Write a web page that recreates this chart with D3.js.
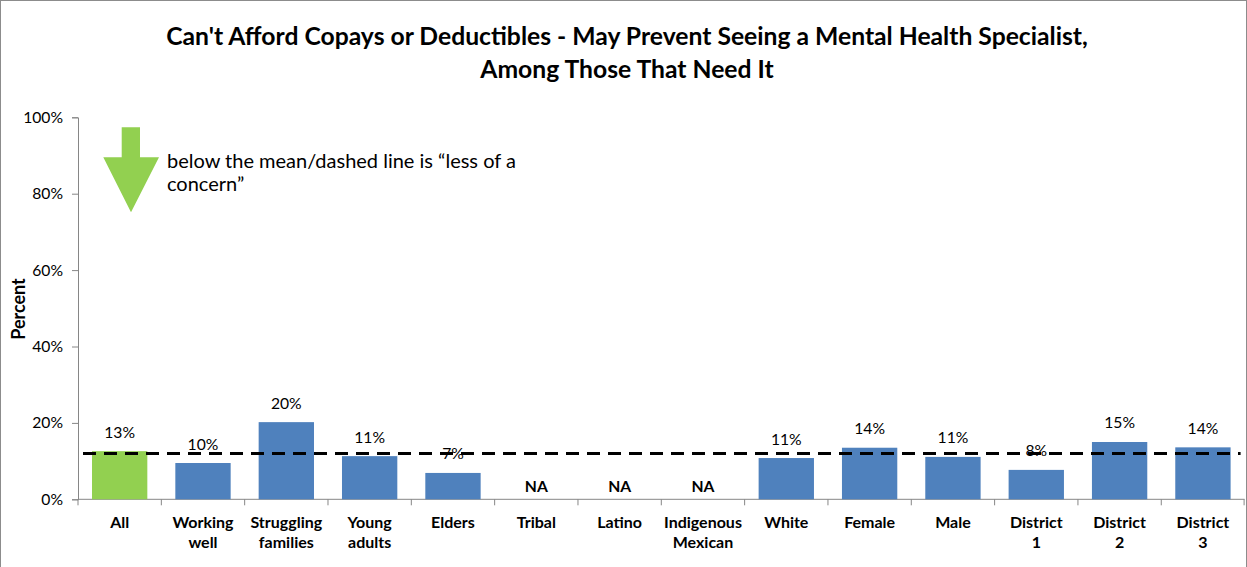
<!DOCTYPE html>
<html>
<head>
<meta charset="utf-8">
<script src="https://cdn.jsdelivr.net/npm/d3@7"></script>
<style>
    body { margin: 0; background: #fff; }
    svg { display: block; font-family: Lato, "Open Sans", sans-serif; }
</style>
</head>
<body>
<div id="chart"></div>
<script>

// chart data
var categories = ["All", "Working well", "Struggling families", "Young adults", "Elders", "Tribal",
    "Latino", "Indigenous Mexican", "White", "Female", "Male", "District 1", "District 2", "District 3"];
var xLabelLines = [["All"], ["Working", "well"], ["Struggling", "families"], ["Young", "adults"], ["Elders"],
    ["Tribal"], ["Latino"], ["Indigenous", "Mexican"], ["White"], ["Female"], ["Male"],
    ["District", "1"], ["District", "2"], ["District", "3"]];
// percent, null = NA
var values = [12.6, 9.5, 20.2, 11.3, 6.9, null, null, null, 10.8, 13.5, 11.1, 7.7, 15.0, 13.6];
var meanValue = 12;
var yTicks = [0, 20, 40, 60, 80, 100];

var titleLines = ["Can't Afford Copays or Deductibles - May Prevent Seeing a Mental Health Specialist,",
    "Among Those That Need It"];
var noteLines = ["below the mean/dashed line is \u201cless of a", "concern\u201d"];

var W = 1247, H = 567;
var margin = {top: 117.3, left: 78, right: 2.4, bottom: 67.7};
var width = W - margin.left - margin.right;
var height = H - margin.top - margin.bottom;

var svg = d3.select("#chart").append("svg")
    .attr("width", W)
    .attr("height", H);

// outer border
svg.append("rect")
    .attr("x", 0.5).attr("y", 0.5)
    .attr("width", W - 1).attr("height", H + 5)
    .attr("fill", "none")
    .attr("stroke", "#8c8c8c");

var g = svg.append("g")
    .attr("transform", "translate(" + margin.left + "," + margin.top + ")");

var x = d3.scaleBand()
    .domain(categories)
    .range([0, width])
    .paddingInner(0.336)
    .paddingOuter(0.168);

var y = d3.scaleLinear()
    .domain([0, 100])
    .range([height, 0]);

// y axis
var yAxis = d3.axisLeft(y)
    .tickValues(yTicks)
    .tickSize(6)
    .tickPadding(9)
    .tickFormat(function(d) { return d + "%"; });

var yAxisG = g.append("g").attr("class", "axis y-axis").call(yAxis);
yAxisG.select(".domain").attr("stroke", "#868686");
yAxisG.selectAll(".tick line").attr("stroke", "#868686");
yAxisG.selectAll(".tick text")
    .attr("font-size", 15.7)
    .attr("fill", "#000")
    .attr("font-family", "Lato, sans-serif");

// x axis (ticks on band boundaries)
var step = x.step();
g.append("line")
    .attr("x1", 0).attr("x2", width)
    .attr("y1", height).attr("y2", height)
    .attr("stroke", "#868686");

g.selectAll(".xtick")
    .data(d3.range(categories.length + 1))
    .enter()
    .append("line")
    .attr("class", "xtick")
    .attr("x1", function(i) { return Math.min(i * step, width - 0.5); })
    .attr("x2", function(i) { return Math.min(i * step, width - 0.5); })
    .attr("y1", height)
    .attr("y2", height + 6)
    .attr("stroke", "#868686");

// bars
g.selectAll("rect.bar")
    .data(categories.map(function(c, i) { return {cat: c, v: values[i], i: i}; })
        .filter(function(d) { return d.v !== null; }))
    .enter()
    .append("rect")
    .attr("class", "bar")
    .attr("x", function(d) { return x(d.cat); })
    .attr("y", function(d) { return y(d.v); })
    .attr("width", x.bandwidth())
    .attr("height", function(d) { return height - y(d.v); })
    .attr("fill", function(d) { return d.i == 0 ? "#92D050" : "#4F81BD"; });

// value labels
g.selectAll("text.val")
    .data(categories.map(function(c, i) { return {cat: c, v: values[i]}; }))
    .enter()
    .append("text")
    .attr("class", "val")
    .attr("x", function(d) { return x(d.cat) + x.bandwidth() / 2; })
    .attr("y", function(d) { return d.v === null ? height - 7 : y(d.v) - 13.5; })
    .attr("text-anchor", "middle")
    .attr("font-size", 15.7)
    .attr("font-weight", function(d) { return d.v === null ? "bold" : "normal"; })
    .text(function(d) { return d.v === null ? "NA" : Math.round(d.v) + "%"; });

// mean dashed line
g.append("line")
    .attr("x1", 5)
    .attr("x2", width - 4)
    .attr("y1", y(meanValue))
    .attr("y2", y(meanValue))
    .attr("stroke", "#000")
    .attr("stroke-width", 3)
    .attr("stroke-dasharray", "13,8");

// x labels
var xl = g.selectAll("text.xlab")
    .data(categories)
    .enter()
    .append("text")
    .attr("class", "xlab")
    .attr("text-anchor", "middle")
    .attr("font-size", 16)
    .attr("font-weight", "bold")
    .attr("transform", function(d) { return "translate(" + (x(d) + x.bandwidth() / 2) + "," + (height + 29) + ")"; });

xl.selectAll("tspan")
    .data(function(d, i) { return xLabelLines[i]; })
    .enter()
    .append("tspan")
    .attr("x", 0)
    .attr("dy", function(d, j) { return j == 0 ? 0 : 20; })
    .text(function(d) { return d; });

// y axis title
svg.append("text")
    .attr("transform", "translate(24.5,309) rotate(-90)")
    .attr("text-anchor", "middle")
    .attr("font-size", 18)
    .attr("font-weight", "bold")
    .text("Percent");

// chart title
svg.append("g").selectAll("text")
    .data(titleLines)
    .enter()
    .append("text")
    .attr("x", 627)
    .attr("y", function(d, i) { return 44.5 + i * 33.5; })
    .attr("text-anchor", "middle")
    .attr("font-size", 24.7)
    .attr("font-weight", "bold")
    .text(function(d) { return d; });

// green arrow annotation
svg.append("path")
    .attr("d", "M121.7,127.3 L140,127.3 L140,157.3 L159,157.3 L131,212.3 L103.3,157.3 L121.7,157.3 Z")
    .attr("fill", "#92D050");

svg.append("g").selectAll("text")
    .data(noteLines)
    .enter()
    .append("text")
    .attr("x", 167)
    .attr("y", function(d, i) { return 168 + i * 22.5; })
    .attr("font-size", 20)
    .text(function(d) { return d; });

</script>
</body>
</html>
